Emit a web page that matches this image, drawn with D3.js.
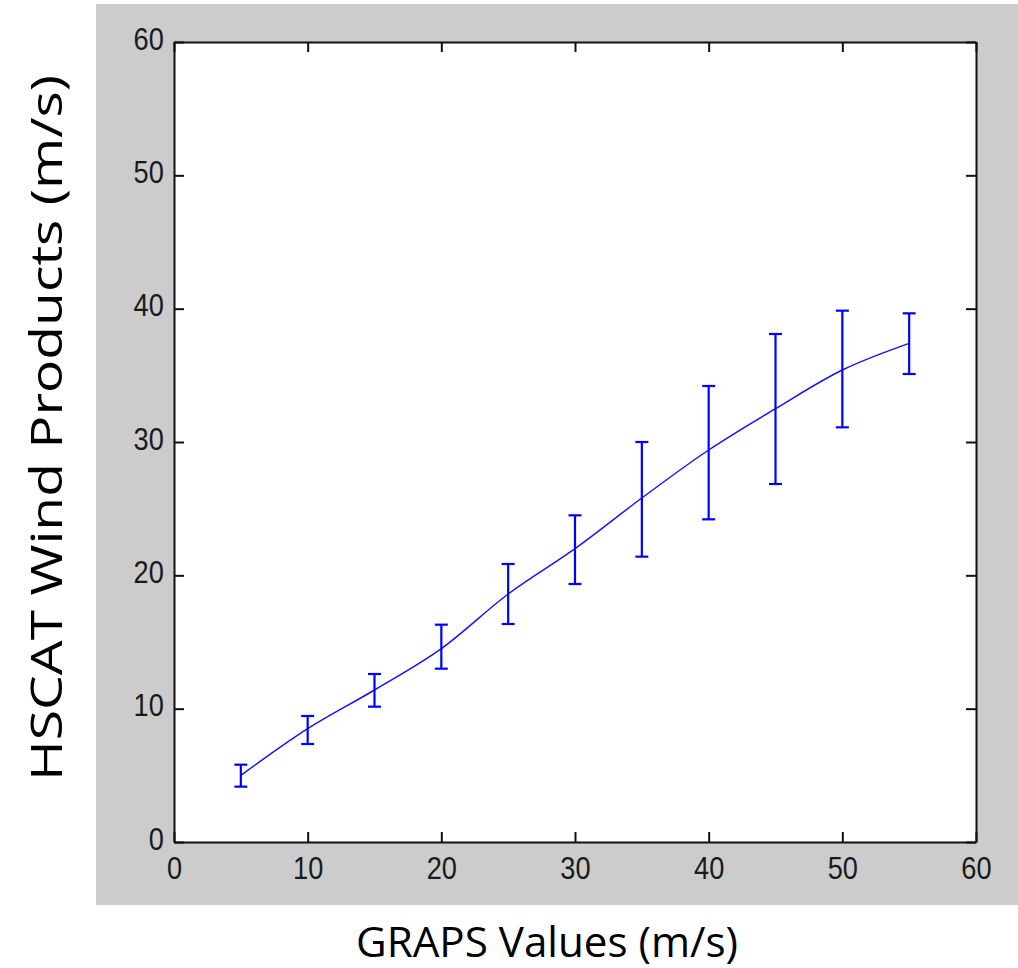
<!DOCTYPE html>
<html>
<head>
<meta charset="utf-8">
<script src="https://cdn.jsdelivr.net/npm/d3@7"></script>
<style>
  body { margin: 0; background: #ffffff; }
  svg { display: block; }
</style>
</head>
<body>
<div id="chart"></div>
<script>
// GRAPS wind speed bins (m/s)
var grapsValues = [5, 10, 15, 20, 25, 30, 35, 40, 45, 50, 55];
// mean HSCAT wind per bin
var hscatMean = [5.0, 8.5, 11.4, 14.5, 18.6, 22.0, 25.8, 29.4, 32.5, 35.4, 37.4];
// error bar ends
var hscatLow  = [4.15, 7.35, 10.15, 13.0, 16.35, 19.35, 21.4, 24.2, 26.85, 31.1, 35.1];
var hscatHigh = [5.8, 9.45, 12.6, 16.3, 20.85, 24.5, 30.0, 34.2, 38.1, 39.85, 39.65];

var xTicks = [0, 10, 20, 30, 40, 50, 60];
var yTicks = [0, 10, 20, 30, 40, 50, 60];

var xTitle = "GRAPS Values (m/s)";
var yTitle = "HSCAT Wind Products (m/s)";

var width = 1018;
var height = 968;

var margin = { left: 174, top: 42, right: 42, bottom: 126 };
var plotW = width - margin.left - margin.right;
var plotH = height - margin.top - margin.bottom;

var svg = d3.select("#chart").append("svg")
    .attr("width", width)
    .attr("height", height);

// grey figure background
svg.append("rect")
    .attr("x", 96).attr("y", 4)
    .attr("width", width - 96).attr("height", 901)
    .attr("fill", "#cccccc");

var g = svg.append("g")
    .attr("transform", "translate(" + margin.left + "," + margin.top + ")");

g.append("rect")
    .attr("width", plotW).attr("height", plotH)
    .attr("fill", "#ffffff");

var x = d3.scaleLinear().domain([0, 60]).range([0, plotW]);
var y = d3.scaleLinear().domain([0, 60]).range([plotH, 0]);

// axes, ticks pointing inward on all four sides
var axisBottom = g.append("g")
    .attr("transform", "translate(0," + plotH + ")")
    .call(d3.axisBottom(x).tickValues(xTicks).tickSizeInner(-10).tickSizeOuter(0).tickPadding(14));
var axisLeft = g.append("g")
    .call(d3.axisLeft(y).tickValues(yTicks).tickSizeInner(-10).tickSizeOuter(0).tickPadding(12));
var axisTop = g.append("g")
    .call(d3.axisTop(x).tickValues(xTicks).tickSizeInner(-10).tickSizeOuter(0).tickFormat(""));
var axisRight = g.append("g")
    .attr("transform", "translate(" + plotW + ",0)")
    .call(d3.axisRight(y).tickValues(yTicks).tickSizeInner(-10).tickSizeOuter(0).tickFormat(""));

[axisBottom, axisLeft, axisTop, axisRight].forEach(function(a) {
    a.select(".domain").attr("stroke", "#111").attr("stroke-width", 2);
    a.selectAll(".tick line").attr("stroke", "#111").attr("stroke-width", 2);
});

axisBottom.selectAll(".tick text")
    .attr("font-family", "Liberation Sans, Arial, sans-serif")
    .attr("font-size", 32)
    .attr("fill", "#1a1a1a")
    .attr("transform", "scale(0.85,1)");
axisLeft.selectAll(".tick text")
    .attr("font-family", "Liberation Sans, Arial, sans-serif")
    .attr("font-size", 32)
    .attr("fill", "#1a1a1a")
    .attr("dy", "0.22em")
    .attr("transform", "scale(0.85,1)");

// mean line
var line = d3.line()
    .x(function(d, i) { return x(grapsValues[i]); })
    .y(function(d) { return y(d); })
    .curve(d3.curveMonotoneX);

g.append("path")
    .datum(hscatMean)
    .attr("d", line)
    .attr("fill", "none")
    .attr("stroke", "#1414ff")
    .attr("stroke-width", 1.5);

// error bars
var capHalf = 6.5;
var bars = g.selectAll(".errbar").data(grapsValues).enter()
    .append("g").attr("class", "errbar");

bars.append("line")
    .attr("x1", function(d) { return x(d); })
    .attr("x2", function(d) { return x(d); })
    .attr("y1", function(d, i) { return y(hscatLow[i]); })
    .attr("y2", function(d, i) { return y(hscatHigh[i]); });
bars.append("line")
    .attr("x1", function(d) { return x(d) - capHalf; })
    .attr("x2", function(d) { return x(d) + capHalf; })
    .attr("y1", function(d, i) { return y(hscatHigh[i]); })
    .attr("y2", function(d, i) { return y(hscatHigh[i]); });
bars.append("line")
    .attr("x1", function(d) { return x(d) - capHalf; })
    .attr("x2", function(d) { return x(d) + capHalf; })
    .attr("y1", function(d, i) { return y(hscatLow[i]); })
    .attr("y2", function(d, i) { return y(hscatLow[i]); });
bars.selectAll("line")
    .attr("stroke", "#0000ff")
    .attr("stroke-width", 2.2);

// axis titles
svg.append("text")
    .attr("x", 547).attr("y", 957)
    .attr("text-anchor", "middle")
    .attr("font-family", "Open Sans, Noto Sans, sans-serif")
    .attr("font-size", 42)
    .attr("fill", "#000")
    .attr("textLength", 382)
    .attr("lengthAdjust", "spacingAndGlyphs")
    .text(xTitle);

svg.append("text")
    .attr("transform", "translate(62,428) rotate(-90)")
    .attr("text-anchor", "middle")
    .attr("font-family", "Open Sans, Noto Sans, sans-serif")
    .attr("font-size", 44)
    .attr("fill", "#000")
    .attr("textLength", 706)
    .attr("lengthAdjust", "spacingAndGlyphs")
    .text(yTitle);
</script>
</body>
</html>
